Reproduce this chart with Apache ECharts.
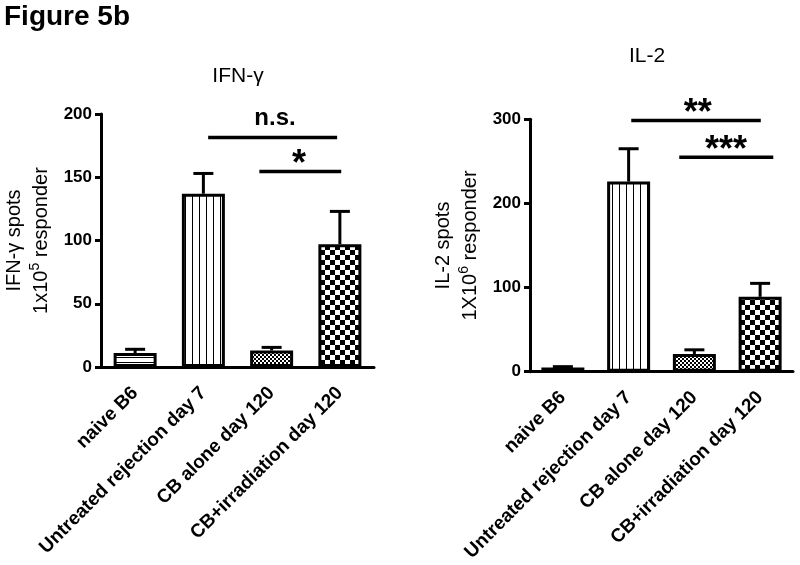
<!DOCTYPE html>
<html><head><meta charset="utf-8">
<script src="https://cdn.jsdelivr.net/npm/echarts@6/dist/echarts.min.js"></script>
<style>html,body{margin:0;padding:0;background:#fff}#c{width:800px;height:565px}</style>
</head><body><div id="c"></div>
<script>
// ---- data ----
const categories = ['naive B6', 'Untreated rejection day 7', 'CB alone day 120', 'CB+irradiation day 120'];
const ifnMeans = [11, 137, 13, 97];
const ifnUpper = [14, 153, 15.5, 123];
const il2Means = [5, 226, 21, 89];
const il2Upper = [6, 265, 26, 105];
const ifnYTicks = [0, 50, 100, 150, 200];
const il2YTicks = [0, 100, 200, 300];
// significance annotations (positions in category units, heights in axis units)
const ifnSigFrom = [1.07, 1.82];
const ifnSigTo = [2.96, 3.02];
const ifnSigY = [181.5, 154.5];
const ifnSigTextX = [2.05, 2.4];
const ifnSigText = ['n.s.', '*'];
const il2SigFrom = [1.04, 1.77];
const il2SigTo = [3.01, 3.2];
const il2SigY = [298.5, 255];
const il2SigTextX = [2.05, 2.48];
const il2SigText = ['**', '***'];

// ---- patterns ----
const FONT = "'Liberation Sans', Arial, Helvetica, sans-serif";
function pat(kind) {
  const c = document.createElement('canvas');
  let w = 8, h = 8;
  if (kind === 'h') { w = 8; h = 5; }
  if (kind === 'v') { w = 7; h = 8; }
  if (kind === 's') { w = 4; h = 4; }
  if (kind === 'b') { w = 10; h = 10; }
  c.width = w; c.height = h;
  const g = c.getContext('2d');
  g.fillStyle = '#fff'; g.fillRect(0, 0, w, h);
  g.fillStyle = '#000';
  if (kind === 'h') g.fillRect(0, 2, w, 1);
  if (kind === 'v') g.fillRect(3, 0, 1, h);
  if (kind === 's') { g.fillRect(0, 0, 2, 2); g.fillRect(2, 2, 2, 2); }
  if (kind === 'b') { g.fillRect(0, 0, 5, 5); g.fillRect(5, 5, 5, 5); }
  return { image: c, repeat: 'repeat' };
}
const patterns = [pat('h'), pat('v'), pat('s'), pat('b')];

const chart = echarts.init(document.getElementById('c'), null, { renderer: 'canvas' });

const grids = [
  { left: 101, top: 114, width: 273, height: 253 },
  { left: 530, top: 119.3, width: 263, height: 252.4 }
];

function catAxis(gi) {
  return {
    type: 'category', gridIndex: gi, data: categories,
    axisLine: { onZero: false, lineStyle: { color: '#000', width: 3 } },
    axisTick: { alignWithLabel: true, length: 8, lineStyle: { color: '#000', width: 3 } },
    axisLabel: { interval: 0, rotate: 45, margin: 23, color: '#000', fontWeight: 'bold', fontSize: 19, fontFamily: FONT },
    splitLine: { show: false }
  };
}
function hiddenX(gi) {
  return { type: 'value', gridIndex: gi, min: -0.5, max: 3.5, show: false, splitLine: { show: false } };
}
function valAxis(gi, ticks, name) {
  return {
    type: 'value', gridIndex: gi, min: ticks[0], max: ticks[ticks.length - 1],
    interval: ticks[1] - ticks[0],
    name: name, nameLocation: 'middle', nameRotate: 90, nameGap: 46,
    nameTextStyle: { color: '#000', fontSize: 20, lineHeight: 27, fontFamily: FONT, align: 'center',
      rich: { sup: { fontSize: 14, lineHeight: 27, verticalAlign: 'top', fontFamily: FONT, color: '#000' } } },
    axisLine: { show: true, onZero: false, lineStyle: { color: '#000', width: 3 } },
    axisTick: { show: true, length: 6, lineStyle: { color: '#000', width: 3 } },
    axisLabel: { margin: 9, color: '#000', fontWeight: 'bold', fontSize: 17, fontFamily: FONT },
    splitLine: { show: false }
  };
}

function barSeries(gi, means) {
  return {
    type: 'bar', xAxisIndex: gi, yAxisIndex: gi, barWidth: 43, z: 3,
    data: means.map((v, i) => ({ value: v, itemStyle: { color: patterns[i] } })),
    itemStyle: { borderColor: '#000', borderWidth: 3 },
    emphasis: { disabled: true }, animation: false
  };
}
function errSeries(gi, means, upper) {
  return {
    type: 'custom', xAxisIndex: gi, yAxisIndex: gi, z: 2, animation: false, silent: true,
    data: means.map((m, i) => [i, m, upper[i]]),
    encode: { x: 0, y: [1, 2] },
    renderItem: function (params, api) {
      const p0 = api.coord([api.value(0), api.value(1)]);
      const p1 = api.coord([api.value(0), api.value(2)]);
      return {
        type: 'group', children: [
          { type: 'line', shape: { x1: p0[0], y1: p0[1], x2: p1[0], y2: p1[1] }, style: { stroke: '#000', lineWidth: 3 } },
          { type: 'line', shape: { x1: p1[0] - 10, y1: p1[1], x2: p1[0] + 10, y2: p1[1] }, style: { stroke: '#000', lineWidth: 3 } }
        ]
      };
    }
  };
}
function sigSeries(gi, xIdx, from, to, ys, tx, texts) {
  return {
    type: 'custom', xAxisIndex: xIdx, yAxisIndex: gi, z: 5, animation: false, silent: true,
    data: from.map((f, i) => [f, to[i], ys[i], tx[i]]),
    encode: { x: [0, 1], y: 2 },
    renderItem: function (params, api) {
      const a = api.coord([api.value(0), api.value(2)]);
      const b = api.coord([api.value(1), api.value(2)]);
      const t = api.coord([api.value(3), api.value(2)]);
      const txt = texts[params.dataIndex];
      const isStar = txt.indexOf('*') >= 0;
      return {
        type: 'group', children: [
          { type: 'line', shape: { x1: a[0], y1: a[1], x2: b[0], y2: b[1] }, style: { stroke: '#000', lineWidth: 3.5 } },
          { type: 'text', x: t[0], y: a[1] - (isStar ? 6 : 19),
            style: { text: txt, fill: '#000', align: 'center', verticalAlign: 'middle',
              font: 'bold ' + (isStar ? 36 : 24) + 'px ' + FONT } }
        ]
      };
    }
  };
}

chart.setOption({
  animation: false,
  backgroundColor: '#fff',
  grid: grids,
  xAxis: [catAxis(0), catAxis(1), hiddenX(0), hiddenX(1)],
  yAxis: [
    valAxis(0, ifnYTicks, 'IFN-γ spots\n1x10{sup|5} responder'),
    valAxis(1, il2YTicks, 'IL-2 spots\n1X10{sup|6} responder')
  ],
  graphic: [
    { type: 'text', left: 4, top: 3, style: { text: 'Figure 5b', font: 'bold 28px ' + FONT, fill: '#000' } },
    { type: 'text', x: 238, y: 76, style: { text: 'IFN-γ', font: '21px ' + FONT, fill: '#000', align: 'center', verticalAlign: 'middle' } },
    { type: 'text', x: 647, y: 56, style: { text: 'IL-2', font: '21px ' + FONT, fill: '#000', align: 'center', verticalAlign: 'middle' } }
  ],
  series: [
    errSeries(0, ifnMeans, ifnUpper),
    barSeries(0, ifnMeans),
    errSeries(1, il2Means, il2Upper),
    barSeries(1, il2Means),
    sigSeries(0, 2, ifnSigFrom, ifnSigTo, ifnSigY, ifnSigTextX, ifnSigText),
    sigSeries(1, 3, il2SigFrom, il2SigTo, il2SigY, il2SigTextX, il2SigText)
  ]
});
</script></body></html>
